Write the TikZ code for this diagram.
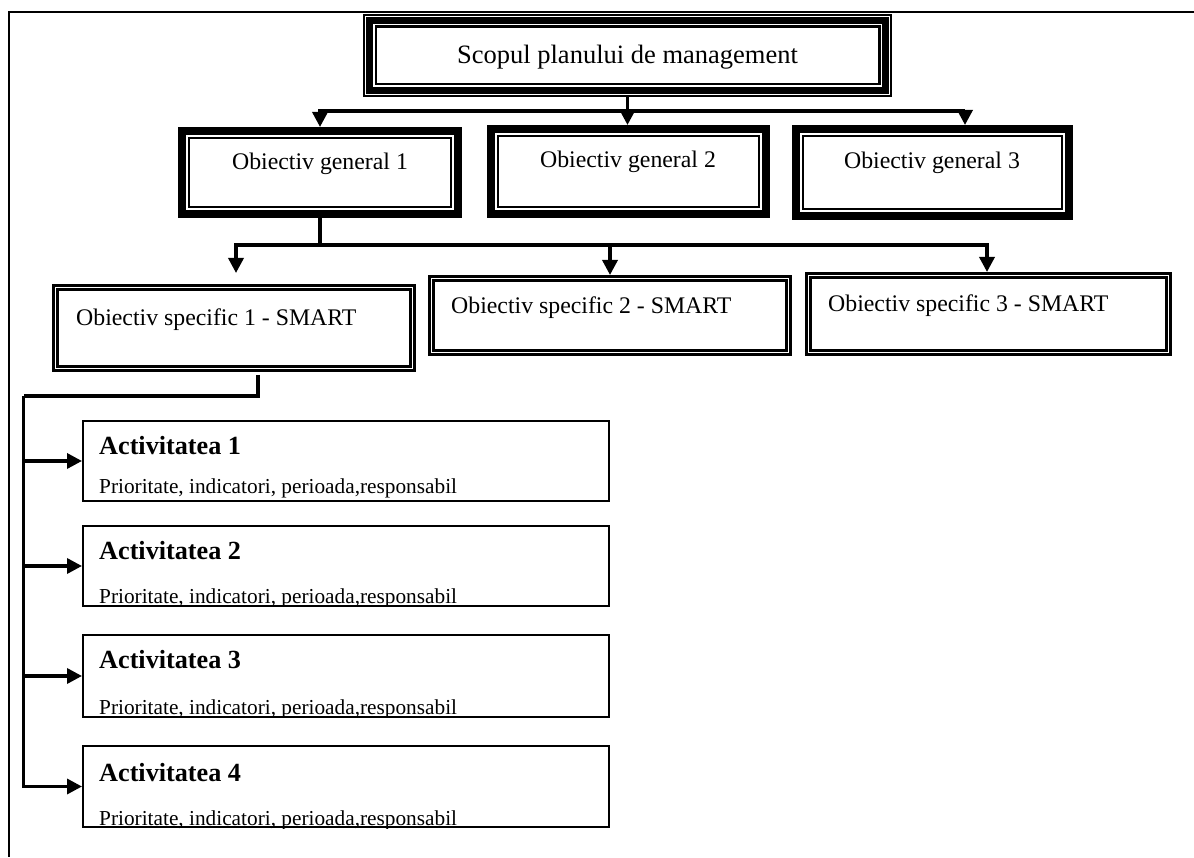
\documentclass[tikz,border=0pt]{standalone}
\usepackage{fontspec}
\setmainfont{Liberation Serif}
\usetikzlibrary{arrows.meta}
\begin{document}
\begin{tikzpicture}[x=1pt,y=1pt,
  frameline/.style={line width=2.2pt},
  conn/.style={line width=3.4pt},
  arr/.style={line width=3.4pt,-{Triangle[length=15pt,width=15pt]}},
  arrtwo/.style={line width=3.4pt,{Triangle[length=15pt,width=15pt]}-{Triangle[length=15pt,width=15pt]}},
  topbox/.style={draw,rectangle,line width=2.2pt,inner sep=0pt},
  thinrule/.style={line width=2.2pt},
  thickrule/.style={line width=6.5pt},
  genbox/.style={draw,rectangle,line width=8pt,inner sep=0pt},
  specbox/.style={draw,rectangle,line width=2.6pt,inner sep=0pt},
  specinner/.style={line width=2.4pt},
  actbox/.style={draw,rectangle,line width=2.4pt,inner sep=0pt,minimum width=525.6pt},
  toptext/.style={inner sep=0pt,anchor=base,font=\fontsize{26.5}{30}\selectfont},
  gentext/.style={inner sep=0pt,anchor=base,font=\fontsize{23.8}{28}\selectfont},
  spectext/.style={inner sep=0pt,anchor=base west,font=\fontsize{23.8}{28}\selectfont},
  acttitle/.style={inner sep=0pt,anchor=base west,font=\fontsize{26.2}{30}\selectfont\bfseries},
  actsub/.style={inner sep=0pt,anchor=base west,font=\fontsize{21.3}{25}\selectfont}]

\useasboundingbox (0,0) rectangle (1194,857);
\fill[white] (0,0) rectangle (1194,857);

% frame
\coordinate (fTR) at (1194,845);
\coordinate (fTL) at (9,845);
\coordinate (fBL) at (9,0);
\draw[frameline] (fTR) -- (fTL) -- (fBL);

% top box
\node[topbox,minimum width=527.6pt,minimum height=81.6pt] (top) at (627.5,801.5) {};
\draw[thickrule] ([shift={(7,7)}]top.south west) rectangle ([shift={(-7,-7)}]top.north east);
\draw[thinrule] ([shift={(13,13)}]top.south west) rectangle ([shift={(-13,-13)}]top.north east);
\node[toptext] (toplbl) at (627.5,793) {Scopul planului de management};

% general objectives
\node[genbox,minimum width=276pt,minimum height=83pt] (og1) at (320,684.5) {};
\node[genbox,minimum width=275pt,minimum height=85pt] (og2) at (628.5,685.5) {};
\node[genbox,minimum width=273pt,minimum height=87pt] (og3) at (932.5,684.5) {};
\foreach \n in {og1,og2,og3}
  \draw[thinrule] ([shift={(11,11)}]\n.south west) rectangle ([shift={(-11,-11)}]\n.north east);
\node[gentext] (og1lbl) at (320,687) {Obiectiv general 1};
\node[gentext] (og2lbl) at (628,689) {Obiectiv general 2};
\node[gentext] (og3lbl) at (932,688) {Obiectiv general 3};

% connectors top -> general
\coordinate (b1) at (627.5,746);
\coordinate (b1r) at (965,746);
\draw[arrtwo] (og1.north) -- (og1.north |- b1) -- (b1r) -- (b1r |- og3.north);
\draw[arr] (top.south) -- (top.south |- og2.north);

% specific objectives
\node[specbox,minimum width=361.4pt,minimum height=85.4pt] (os1) at (234,529) {};
\node[specbox,minimum width=361.4pt,minimum height=78.4pt] (os2) at (610,541.5) {};
\node[specbox,minimum width=364.4pt,minimum height=81.4pt] (os3) at (988.5,543) {};
\foreach \n in {os1,os2,os3}
  \draw[specinner] ([shift={(5.6,5.6)}]\n.south west) rectangle ([shift={(-5.6,-5.6)}]\n.north east);
\node[spectext] (os1lbl) at (76,531) {Obiectiv specific 1 - SMART};
\node[spectext] (os2lbl) at (451,543) {Obiectiv specific 2 - SMART};
\node[spectext] (os3lbl) at (828,545) {Obiectiv specific 3 - SMART};

% connectors general 1 -> specific
\coordinate (b2) at (320,612);
\coordinate (b2l) at (236,612);
\coordinate (b2r) at (987,612);
\coordinate (os1in) at ([yshift=11pt]os1.north);
\draw[conn] (og1.south) -- (b2);
\draw[arrtwo] (b2l |- os1in) -- (b2l) -- (b2r) -- (b2r |- os3.north);
\draw[arr] (b2 -| os2.north) -- (os2.north);

% activities
\node[actbox,minimum height=79.6pt] (a1) at (346,396) {};
\node[actbox,minimum height=79.6pt] (a2) at (346,291) {};
\node[actbox,minimum height=81.6pt] (a3) at (346,181) {};
\node[actbox,minimum height=80.6pt] (a4) at (346,70.5) {};
\node[acttitle] (a1t) at (99,402) {Activitatea 1};
\node[acttitle] (a2t) at (99,297) {Activitatea 2};
\node[acttitle] (a3t) at (99,188) {Activitatea 3};
\node[acttitle] (a4t) at (99,76) {Activitatea 4};
\begin{scope}
  \clip (a1.south west) rectangle (a1.north east);
  \node[actsub] (a1s) at (99,363) {Prioritate, indicatori, perioada,responsabil};
\end{scope}
\begin{scope}
  \clip (a2.south west) rectangle (a2.north east);
  \node[actsub] (a2s) at (99,253) {Prioritate, indicatori, perioada,responsabil};
\end{scope}
\begin{scope}
  \clip (a3.south west) rectangle (a3.north east);
  \node[actsub] (a3s) at (99,142) {Prioritate, indicatori, perioada,responsabil};
\end{scope}
\begin{scope}
  \clip (a4.south west) rectangle (a4.north east);
  \node[actsub] (a4s) at (99,31.5) {Prioritate, indicatori, perioada,responsabil};
\end{scope}

% connector specific 1 -> activities
\coordinate (s1) at ([xshift=24pt,yshift=-3pt]os1.south);
\coordinate (s2) at (258,461);
\coordinate (sp) at (23.5,461);
\draw[conn] (s1) -- (s2) -- (sp);
\draw[arr] (sp) -- (sp |- a4.west) -- (a4.west);
\foreach \n in {a1,a2,a3}
  \draw[arr] (sp |- \n.west) -- (\n.west);
\end{tikzpicture}
\end{document}
